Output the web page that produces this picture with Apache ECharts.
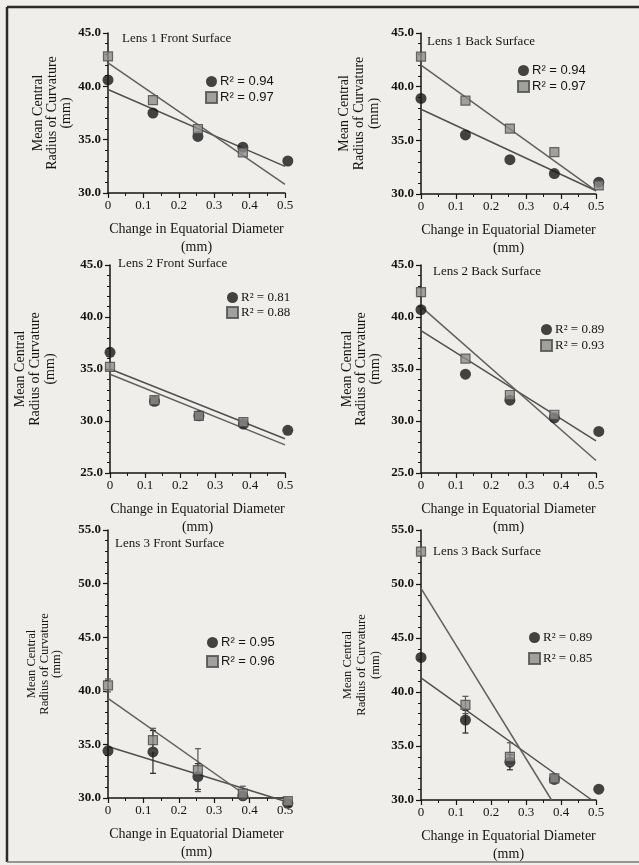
<!DOCTYPE html>
<html>
<head>
<meta charset="utf-8">
<script src="https://cdn.jsdelivr.net/npm/echarts@6/dist/echarts.min.js"></script>
<style>
html,body{margin:0;padding:0;background:#efeeea;}
#c{width:639px;height:865px;}
</style>
</head>
<body>
<div id="c"></div>
<script>
// ---- data ----
const xPos = [0, 0.127, 0.254, 0.381, 0.508];
const titles = ['Lens 1 Front Surface', 'Lens 1 Back Surface', 'Lens 2 Front Surface',
                'Lens 2 Back Surface', 'Lens 3 Front Surface', 'Lens 3 Back Surface'];
const yMin = [30, 30, 25, 25, 30, 30];
const yMax = [45, 45, 45, 45, 55, 55];
const xTickLabels = ['0', '0.1', '0.2', '0.3', '0.4', '0.5'];
const r2Circle = ['0.94', '0.94', '0.81', '0.89', '0.95', '0.89'];
const r2Square = ['0.97', '0.97', '0.88', '0.93', '0.96', '0.85'];

const circ1 = [40.6, 37.5, 35.3, 34.3, 33.0];
const sq1   = [42.8, 38.7, 36.0, 33.8];
const circ2 = [38.9, 35.5, 33.2, 31.9, 31.1];
const sq2   = [42.8, 38.7, 36.1, 33.9, 30.8];
const circ3 = [36.6, 31.9, 30.5, 29.7, 29.1];
const sq3   = [35.2, 32.0, 30.5, 29.9];
const circ4 = [40.7, 34.5, 32.0, 30.3, 29.0];
const sq4   = [42.4, 36.0, 32.5, 30.6];
const circ5 = [34.4, 34.3, 32.0, 30.2, 29.5];
const sq5   = [40.5, 35.4, 32.6, 30.4, 29.7];
const circ6 = [43.2, 37.4, 33.5, 31.9, 31.0];
const sq6   = [53.0, 38.8, 34.0, 32.0];

// fitted lines: [x, y] at start and end
const circFit1 = [[0, 39.7], [0.5, 32.5]];
const sqFit1   = [[0, 42.2], [0.5, 30.8]];
const circFit2 = [[0, 37.9], [0.5, 30.3]];
const sqFit2   = [[0, 42.0], [0.5, 30.3]];
const circFit3 = [[0, 35.0], [0.5, 28.3]];
const sqFit3   = [[0, 34.5], [0.5, 27.7]];
const circFit4 = [[0, 38.7], [0.5, 28.1]];
const sqFit4   = [[0, 41.0], [0.5, 26.2]];
const circFit5 = [[0, 34.8], [0.5, 29.7]];
const sqFit5   = [[0, 39.3], [0.4, 30.0]];
const circFit6 = [[0, 41.3], [0.488, 30.0]];
const sqFit6   = [[0, 49.6], [0.373, 30.0]];

// error bars: [x, low, high]
const errCirc5 = [[0.127, 32.3, 36.3], [0.254, 30.8, 33.2]];
const errSq5   = [[0, 39.9, 41.1], [0.127, 34.4, 36.5], [0.254, 30.6, 34.6], [0.381, 29.9, 31.1]];
const errCirc6 = [[0.127, 36.2, 38.3], [0.254, 32.8, 34.2]];
const errSq6   = [[0.127, 38.0, 39.6], [0.254, 33.2, 35.3], [0.381, 31.6, 32.4]];

// ---- layout / styling ----
const circs = [circ1, circ2, circ3, circ4, circ5, circ6];
const sqs = [sq1, sq2, sq3, sq4, sq5, sq6];
const circFits = [circFit1, circFit2, circFit3, circFit4, circFit5, circFit6];
const sqFits = [sqFit1, sqFit2, sqFit3, sqFit4, sqFit5, sqFit6];
const errC = [null, null, null, null, errCirc5, errCirc6];
const errS = [null, null, null, null, errSq5, errSq6];

const SERIF = '"Liberation Serif", "DejaVu Serif", serif';
const SANS = '"Liberation Sans", Arial, sans-serif';
const INK = '#141414';

const grids = [
  {left: 108, top: 33, width: 177, height: 160},
  {left: 421, top: 33, width: 175, height: 161},
  {left: 110, top: 265, width: 175, height: 208},
  {left: 421, top: 265, width: 175, height: 208},
  {left: 108, top: 530, width: 177, height: 268},
  {left: 421, top: 530, width: 175, height: 270}
];
const yNameGap = [35, 39, 52, 39, 45, 38];
const yNameSize = [14, 14, 14, 14, 12.5, 12.5];
const yNameLH = [14, 15, 15, 14, 12.5, 14];
const titlePos = [[122, 32], [427, 35], [118, 257], [433, 265], [115, 537], [433, 545]];
const legendPos = [[205, 75], [517, 64], [226, 291], [540, 323], [206, 636], [528, 631]];
const legendFont = [SANS, SANS, SERIF, SERIF, SANS, SERIF];
const legendGap = [3, 3, 2, 3, 6, 8];
const fitClip = [true, true, true, true, false, true];

const xAxes = [], yAxes = [], series = [], titleComps = [], legends = [];

grids.forEach((g, i) => {
  xAxes.push({
    gridIndex: i, type: 'value', min: 0, max: 0.5, interval: 0.1,
    axisLine: {show: true, onZero: false, lineStyle: {color: INK, width: 1.5}},
    axisTick: {show: true, length: 5, lineStyle: {color: INK, width: 1.2}},
    minorTick: {show: true, splitNumber: 2, length: 3, lineStyle: {color: INK, width: 1}},
    splitLine: {show: false},
    axisLabel: {
      formatter: (v) => xTickLabels[Math.round(v * 10)],
      fontFamily: SERIF, fontSize: 13, color: INK, margin: 6
    },
    name: 'Change in Equatorial Diameter\n(mm)',
    nameLocation: 'middle', nameGap: 27,
    nameTextStyle: {fontFamily: SERIF, fontSize: 14, lineHeight: 18, color: INK}
  });
  yAxes.push({
    gridIndex: i, type: 'value', min: yMin[i], max: yMax[i], interval: 5,
    axisLine: {show: true, onZero: false, lineStyle: {color: INK, width: 1.5}},
    axisTick: {show: true, length: 5, lineStyle: {color: INK, width: 1.2}},
    minorTick: {show: true, splitNumber: 5, length: 3, lineStyle: {color: INK, width: 1}},
    splitLine: {show: false},
    axisLabel: {formatter: (v) => v.toFixed(1), fontFamily: SERIF, fontSize: 13,
                fontWeight: 'bold', color: INK, margin: 7},
    name: 'Mean Central\nRadius of Curvature\n(mm)',
    nameLocation: 'middle', nameRotate: 90, nameGap: yNameGap[i],
    nameTextStyle: {fontFamily: SERIF, fontSize: yNameSize[i], lineHeight: yNameLH[i], color: INK}
  });
  titleComps.push({
    text: titles[i], left: titlePos[i][0], top: titlePos[i][1], padding: 0,
    textStyle: {fontFamily: SERIF, fontSize: 13, fontWeight: 'normal', color: INK}
  });

  const cName = 'c' + (i + 1), sName = 's' + (i + 1);
  legends.push({
    left: legendPos[i][0], top: legendPos[i][1], orient: 'vertical', padding: 0,
    itemGap: legendGap[i], itemWidth: 11, itemHeight: 11, selectedMode: false,
    data: [cName, sName],
    formatter: (n) => 'R² = ' + (n[0] === 'c' ? r2Circle[i] : r2Square[i]),
    textStyle: {fontFamily: legendFont[i], fontSize: 13, color: INK, padding: [0, 0, 0, -2]}
  });

  series.push({
    type: 'line', xAxisIndex: i, yAxisIndex: i, data: circFits[i], symbol: 'none',
    clip: fitClip[i], lineStyle: {color: '#505050', width: 1.5}, z: 2, silent: true
  });
  series.push({
    type: 'line', xAxisIndex: i, yAxisIndex: i, data: sqFits[i], symbol: 'none',
    clip: fitClip[i], lineStyle: {color: '#606060', width: 1.5}, z: 2, silent: true
  });

  const errRender = (color) => function (params, api) {
    const x = api.value(0);
    const lo = api.coord([x, api.value(1)]);
    const hi = api.coord([x, api.value(2)]);
    const w = 3;
    const st = {stroke: color, lineWidth: 1.2};
    return {type: 'group', children: [
      {type: 'line', shape: {x1: lo[0], y1: lo[1], x2: hi[0], y2: hi[1]}, style: st},
      {type: 'line', shape: {x1: lo[0] - w, y1: lo[1], x2: lo[0] + w, y2: lo[1]}, style: st},
      {type: 'line', shape: {x1: hi[0] - w, y1: hi[1], x2: hi[0] + w, y2: hi[1]}, style: st}
    ]};
  };
  if (errC[i]) {
    series.push({type: 'custom', xAxisIndex: i, yAxisIndex: i, data: errC[i],
      renderItem: errRender('#2a2a2a'), z: 3, silent: true});
  }
  if (errS[i]) {
    series.push({type: 'custom', xAxisIndex: i, yAxisIndex: i, data: errS[i],
      renderItem: errRender('#555'), z: 5, silent: true});
  }

  series.push({
    name: cName, type: 'scatter', xAxisIndex: i, yAxisIndex: i, clip: false,
    data: circs[i].map((y, k) => [xPos[k], y]),
    symbol: 'circle', symbolSize: 11,
    itemStyle: {color: '#161616'}, z: 4
  });
  series.push({
    name: sName, type: 'scatter', xAxisIndex: i, yAxisIndex: i, clip: false,
    data: sqs[i].map((y, k) => [xPos[k], y]),
    symbol: 'rect', symbolSize: 9,
    itemStyle: {color: '#8c8c8c', borderColor: '#4a4a4a', borderWidth: 1.2}, z: 6
  });
});

const chart = echarts.init(document.getElementById('c'), null, {renderer: 'canvas'});
chart.setOption({
  backgroundColor: '#efeeea',
  animation: false,
  grid: grids,
  xAxis: xAxes,
  yAxis: yAxes,
  title: titleComps,
  legend: legends,
  series: series,
  graphic: [
    {type: 'line', shape: {x1: 7, y1: 7, x2: 639, y2: 7}, style: {stroke: '#2a2a2a', lineWidth: 2.5}},
    {type: 'line', shape: {x1: 7, y1: 7, x2: 7, y2: 862}, style: {stroke: '#2a2a2a', lineWidth: 2.5}},
    {type: 'line', shape: {x1: 7, y1: 862, x2: 639, y2: 862}, style: {stroke: '#777', lineWidth: 1.5}}
  ]
});
</script>
</body>
</html>
